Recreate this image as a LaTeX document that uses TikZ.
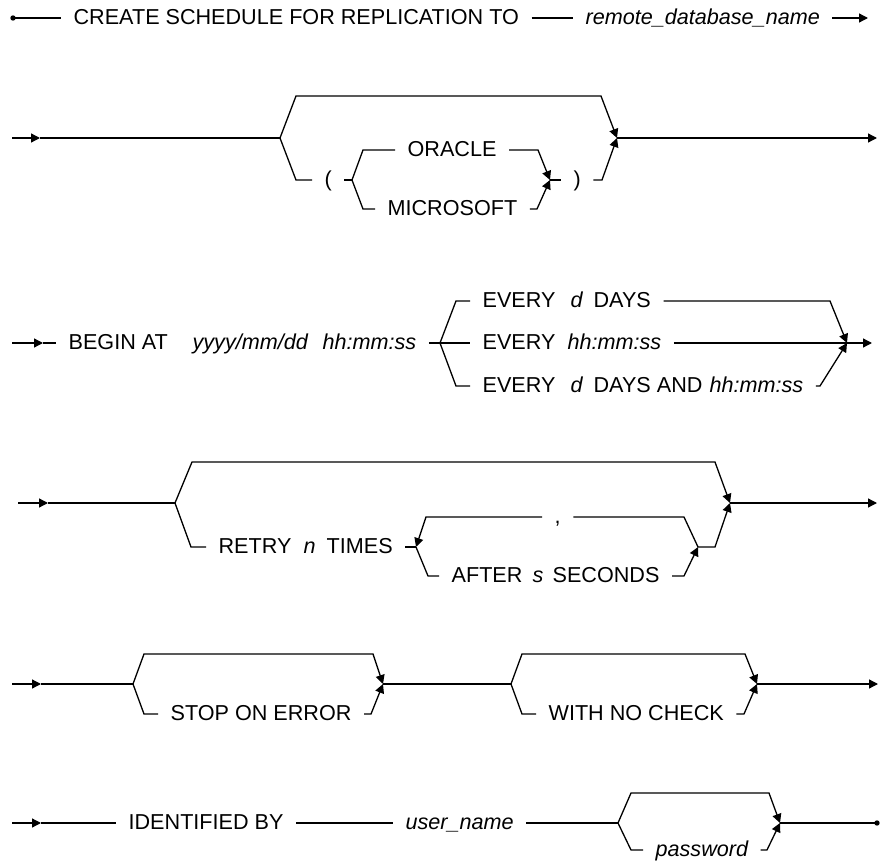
\documentclass[tikz,border=0pt]{standalone}
\usepackage{fontspec}
\setmainfont{Liberation Sans}
\usetikzlibrary{arrows.meta}

\begin{document}
\begin{tikzpicture}[x=0.5pt,y=-0.5pt,line width=0.65pt,
  txt/.style={anchor=west,inner xsep=6pt,inner ysep=0pt,text height=6.6pt,text depth=0pt,
    font=\fontsize{10.8}{13}\selectfont},
  var/.style={txt,font=\fontsize{10.8}{13}\selectfont\itshape},
  arr/.style={-{Triangle[length=4.5pt,width=4.5pt]}}]
\useasboundingbox (0,0) rectangle (880,862);
% \draw[lightgray] (0,0) grid[step=20] (880,862);

% first line
\coordinate (s1) at (13,18);
\coordinate (e1) at (868,18);
\node[txt] (create) at (61,18) {CREATE SCHEDULE FOR REPLICATION TO};
\node[var] (remote) at (573,18) {remote\_database\_name};
\fill (s1) circle (2.7);
\draw (s1) -- (create);
\draw (create) -- (remote);
\draw[arr] (remote) -- (e1);

% database kind
\coordinate (s2) at (12,138);
\coordinate (t2) at (40,138);
\coordinate (f2) at (280,138);
\coordinate (m2) at (617,138);
\coordinate (e2) at (877,138);
\coordinate (fi2) at (352,180);
\coordinate (mi2) at (550,180);
\node[txt] (lpar) at (312,180) {(};
\node[txt] (oracle) at (395,150) {ORACLE};
\node[txt] (micro) at (375,209) {MICROSOFT};
\node[txt] (rpar) at (561,180) {)};
\draw[arr] (s2) -- (t2);
\draw (t2) -- (f2);
\draw[arr] (f2) -- (296,96) -- (601,96) -- (m2);
\draw (f2) -- (296,180) -- (lpar);
\draw (lpar) -- (fi2);
\draw (fi2) -- (363,150) -- (oracle);
\draw[arr] (oracle) -- (538,150) -- (mi2);
\draw (fi2) -- (363,209) -- (micro);
\draw[arr] (micro) -- (537,209) -- (mi2);
\draw (mi2) -- (rpar);
\draw[arr] (rpar) -- (602,180) -- (m2);
\draw[arr] (m2) -- (e2);

% begin and interval
\coordinate (s3) at (12,343);
\coordinate (t3) at (43,343);
\coordinate (f3) at (440,343);
\coordinate (m3) at (847,343);
\coordinate (e3) at (872,343);
\node[txt] (begin) at (56,343) {BEGIN AT};
\node[var] (date) at (180,343) {yyyy/mm/dd};
\node[var] (time) at (310,343) {hh:mm:ss};
\node[txt] (every1) at (470,301) {EVERY};
\node[var] (d1) at (558,301) {d};
\node[txt] (days1) at (581,301) {DAYS};
\node[txt] (every2) at (470,343) {EVERY};
\node[var] (hms2) at (555,343) {hh:mm:ss};
\node[txt] (every3) at (470,386) {EVERY};
\node[var] (d3) at (558,386) {d};
\node[txt] (days3) at (581,386) {DAYS AND};
\node[var] (hms3) at (697,386) {hh:mm:ss};
\draw[arr] (s3) -- (t3);
\draw (t3) -- (begin);
\draw (time) -- (f3);
\draw (f3) -- (456,301) -- (every1);
\draw[arr] (days1) -- (830,301) -- (m3);
\draw (f3) -- (every2);
\draw[arr] (hms2) -- (e3);
\draw (f3) -- (456,386) -- (every3);
\draw[arr] (hms3) -- (820,386) -- (m3);

% retry
\coordinate (s4) at (18,503);
\coordinate (t4) at (48,503);
\coordinate (f4) at (175,503);
\coordinate (m4) at (730,503);
\coordinate (e4) at (877,503);
\coordinate (j4) at (416,547);
\coordinate (k4) at (698,547);
\node[txt] (retry) at (206,547) {RETRY};
\node[var] (n4) at (291,547) {n};
\node[txt] (times) at (314,547) {TIMES};
\node[txt] (comma) at (542,517) {,};
\node[txt] (after) at (439,576) {AFTER};
\node[var] (s) at (520,576) {s};
\node[txt] (seconds) at (540,576) {SECONDS};
\draw[arr] (s4) -- (t4);
\draw (t4) -- (f4);
\draw[arr] (f4) -- (192,462) -- (715,462) -- (m4);
\draw (f4) -- (191,547) -- (retry);
\draw (times) -- (j4);
\draw (k4) -- (684,517) -- (comma);
\draw[arr] (comma) -- (426,517) -- (j4);
\draw (j4) -- (428,576) -- (after);
\draw[arr] (seconds) -- (684,576) -- (k4);
\draw[arr] (k4) -- (715,547) -- (m4);
\draw[arr] (m4) -- (e4);

% options
\coordinate (s5) at (12,684);
\coordinate (t5) at (41,684);
\coordinate (f5) at (133,684);
\coordinate (m5) at (383,684);
\coordinate (g5) at (511,684);
\coordinate (n5) at (757,684);
\coordinate (e5) at (878,684);
\node[txt] (stop) at (158,714) {STOP ON ERROR};
\node[txt] (check) at (536,714) {WITH NO CHECK};
\draw[arr] (s5) -- (t5);
\draw (t5) -- (f5);
\draw[arr] (f5) -- (144,654) -- (373,654) -- (m5);
\draw (f5) -- (144,714) -- (stop);
\draw[arr] (stop) -- (371,714) -- (m5);
\draw (m5) -- (g5);
\draw[arr] (g5) -- (522,654) -- (745,654) -- (n5);
\draw (g5) -- (522,714) -- (check);
\draw[arr] (check) -- (744,714) -- (n5);
\draw[arr] (n5) -- (e5);

% identification
\coordinate (s6) at (12,823);
\coordinate (t6) at (41,823);
\coordinate (f6) at (618,823);
\coordinate (m6) at (780,823);
\coordinate (e6) at (877,823);
\node[txt] (ident) at (116,823) {IDENTIFIED BY};
\node[var] (user) at (393,823) {user\_name};
\node[var] (pass) at (643,850) {password};
\draw[arr] (s6) -- (t6);
\draw (t6) -- (ident);
\draw (ident) -- (user);
\draw (user) -- (f6);
\draw[arr] (f6) -- (631,793) -- (769,793) -- (m6);
\draw (f6) -- (631,850) -- (pass);
\draw[arr] (pass) -- (767,850) -- (m6);
\draw (m6) -- (e6);
\fill (e6) circle (2.7);

\end{tikzpicture}
\end{document}
